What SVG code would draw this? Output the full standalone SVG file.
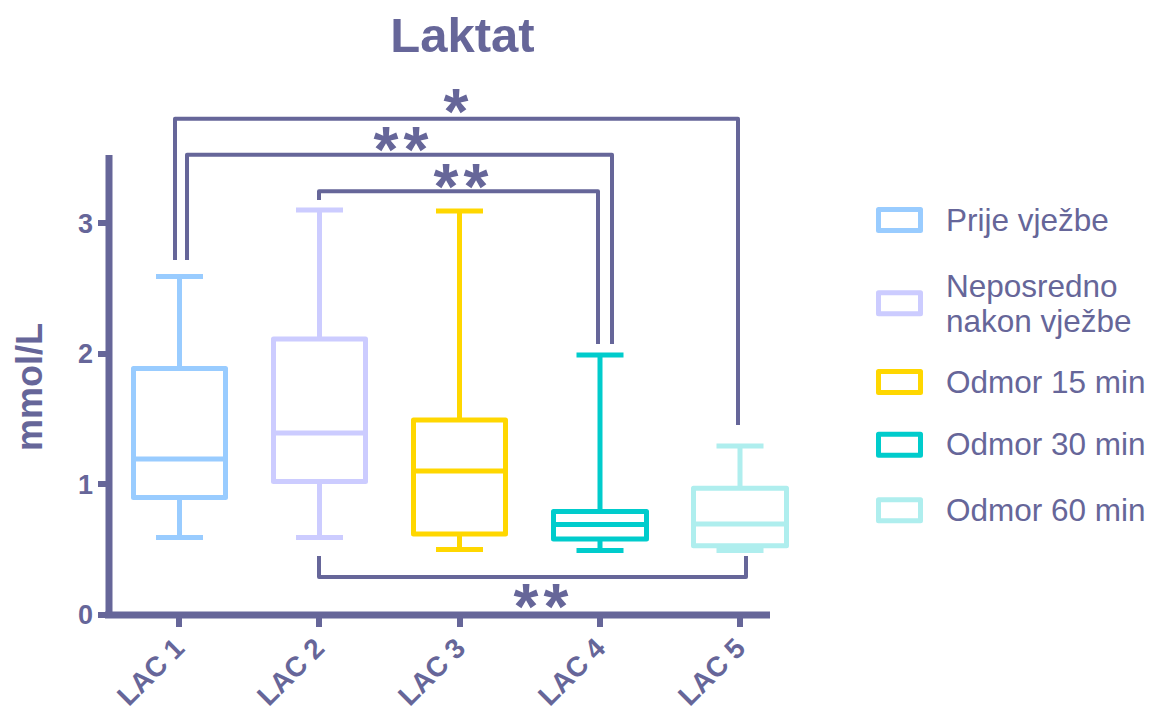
<svg xmlns="http://www.w3.org/2000/svg" width="1155" height="709" viewBox="0 0 1155 709">
<style>
text{font-family:"Liberation Sans",Arial,sans-serif;fill:#666699}
.b{font-weight:bold}
.ax{stroke:#666699;stroke-width:7;fill:none}
.tk{stroke:#666699;stroke-width:6;fill:none}
.br{stroke:#666699;stroke-width:4;fill:none;stroke-linejoin:round}
.bx{fill:none;stroke-width:5;stroke-linejoin:round}
.c1{stroke:#99ccff}.c2{stroke:#ccccff}.c3{stroke:#ffd700}.c4{stroke:#00cccc}.c5{stroke:#afeeee}
.st{font-size:64px;font-weight:bold;text-anchor:middle;letter-spacing:5px}
.lg{font-size:31.5px}
.xl{font-size:28px;font-weight:bold;text-anchor:end}
.yl{font-size:27px;font-weight:bold;text-anchor:end}
</style>
<rect width="1155" height="709" fill="#ffffff"/>
<text class="b" x="462.5" y="52" font-size="49" text-anchor="middle">Laktat</text>

<g id="axes">
<path class="ax" d="M109 155V618M105 615H770"/>
<path class="tk" d="M98 223H108M98 354H108M98 484H108M98 615H108"/>
<path class="tk" d="M179 615V627M319 615V627M460 615V627M600 615V627M740 615V627"/>
<text class="yl" x="93" y="233">3</text>
<text class="yl" x="93" y="363">2</text>
<text class="yl" x="93" y="494">1</text>
<text class="yl" x="93" y="624">0</text>
<text class="b" font-size="36" text-anchor="middle" transform="translate(42 387) rotate(-90)">mmol/L</text>
<text class="xl" transform="translate(186 650) rotate(-45)">LAC 1</text>
<text class="xl" transform="translate(326 650) rotate(-45)">LAC 2</text>
<text class="xl" transform="translate(467 650) rotate(-45)">LAC 3</text>
<text class="xl" transform="translate(607 650) rotate(-45)">LAC 4</text>
<text class="xl" transform="translate(747 650) rotate(-45)">LAC 5</text>
</g>

<g id="box1">
<path class="bx c1" d="M179.5 276.5V368.5M156 276.5H203M179.5 497.5V537.5M156 537.5H203"/>
<rect class="bx c1" x="133.5" y="368.5" width="92" height="129"/>
<path class="bx c1" d="M133.5 459H225.5"/>
</g>
<g id="box2">
<path class="bx c2" d="M319.5 210V339M296 210H343M319.5 481.5V537.5M296 537.5H343"/>
<rect class="bx c2" x="273.5" y="339" width="92" height="142.5"/>
<path class="bx c2" d="M273.5 433H365.5"/>
</g>
<g id="box3">
<path class="bx c3" d="M459.5 211V420M436 211H483M459.5 534V549.5M436 549.5H483"/>
<rect class="bx c3" x="413.5" y="420" width="92" height="114"/>
<path class="bx c3" d="M413.5 471H505.5"/>
</g>
<g id="box4">
<path class="bx c4" d="M600 355V511.5M576.5 355H623.5M600 539V550.5M576.5 550.5H623.5"/>
<rect class="bx c4" x="553.5" y="511.5" width="93" height="27.5"/>
<path class="bx c4" d="M553.5 524.5H646.5"/>
</g>
<g id="box5">
<path class="bx c5" d="M740 446V488.3M716.5 446H763.5M716.5 550.5H763.5"/>
<rect class="bx c5" x="693.5" y="488.3" width="93" height="57.5"/>
<path class="bx c5" d="M693.5 524H786.5"/>
</g>

<g id="connectors">
<path class="br" d="M175 260V118.7H738V425"/>
<path class="br" d="M187 260V154.7H612V344"/>
<path class="br" d="M319 200V191.3H598V344"/>
<path class="br" d="M319 556V577H746V556"/>
<text class="st" x="458.5" y="134">*</text>
<text class="st" x="403.5" y="172">**</text>
<text class="st" x="463.5" y="209">**</text>
<text class="st" x="543.5" y="629">**</text>
</g>

<g id="legend">
<rect class="bx c1" x="878.5" y="209.5" width="42" height="21"/>
<rect class="bx c2" x="878.5" y="292.8" width="42" height="21"/>
<rect class="bx c3" x="878.5" y="371.5" width="42" height="21"/>
<rect class="bx c4" x="878.5" y="434.2" width="42" height="21"/>
<rect class="bx c5" x="878.5" y="499.8" width="42" height="21"/>
<text class="lg" x="946" y="231">Prije vježbe</text>
<text class="lg" x="946" y="297">Neposredno</text>
<text class="lg" x="946" y="332">nakon vježbe</text>
<text class="lg" x="946" y="393">Odmor 15 min</text>
<text class="lg" x="946" y="455">Odmor 30 min</text>
<text class="lg" x="946" y="521">Odmor 60 min</text>
</g>
</svg>
